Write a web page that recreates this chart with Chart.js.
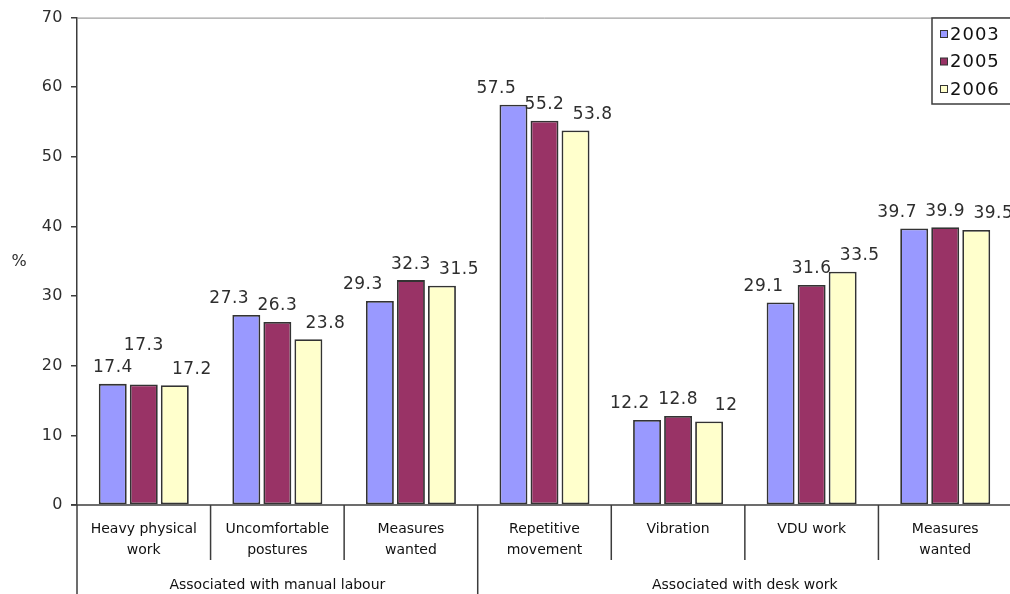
<!DOCTYPE html>
<html>
<head>
<meta charset="utf-8">
<title>Work-related health risks</title>
<script src="https://cdn.jsdelivr.net/npm/chart.js@4/dist/chart.umd.min.js"></script>
<style>
  html, body { margin: 0; padding: 0; background: #ffffff; overflow: hidden; }
  #wrap { position: absolute; left: 0; top: 0; width: 1012px; height: 594px; }
</style>
</head>
<body>
<div id="wrap"><canvas id="c" width="1012" height="594"></canvas></div>
<script>
// Categories (two-line labels) and the group each one belongs to
const categories = [
  ["Heavy physical", "work"],
  ["Uncomfortable", "postures"],
  ["Measures", "wanted"],
  ["Repetitive", "movement"],
  ["Vibration"],
  ["VDU work"],
  ["Measures", "wanted"]
];
const groupNames = ["Associated with manual labour", "Associated with desk work"];
const groupSizes = [3, 4];

// Series values (%)
const years = ["2003", "2005", "2006"];
const v2003 = [17.4, 27.3, 29.3, 57.5, 12.2, 29.1, 39.7];
const v2005 = [17.3, 26.3, 32.3, 55.2, 12.8, 31.6, 39.9];
const v2006 = [17.2, 23.8, 31.5, 53.8, 12, 33.5, 39.5];

// Value axis
const yMin = 0, yMax = 70, yStep = 10;
const yTitle = "%";

const seriesColors = ["#9999ff", "#993366", "#ffffcc"];
const lineColor = "#3c3c3c";
const FONT = "'DejaVu Sans', Verdana, sans-serif";

// Slightly widened tick text on the value axis
const tickSpacing = {
  id: "tickSpacing",
  beforeDraw(chart) { chart.ctx.letterSpacing = "0.5px"; },
  beforeDatasetsDraw(chart) { chart.ctx.letterSpacing = "0px"; }
};

// Value labels spread above each group of bars; a label that would collide
// with its left neighbour is lifted above it
const valueLabels = {
  id: "valueLabels",
  afterDatasetsDraw(chart) {
    const ctx = chart.ctx;
    const area = chart.chartArea;
    const boxH = 14;
    ctx.save();
    ctx.font = "17px " + FONT;
    ctx.letterSpacing = "0.5px";
    ctx.fillStyle = "#2e2e2e";
    ctx.textAlign = "center";
    ctx.textBaseline = "middle";
    const metas = chart.data.datasets.map((_, d) => chart.getDatasetMeta(d));
    const nCat = chart.data.labels.length;
    for (let i = 0; i < nCat; i++) {
      const mid = metas[1].data[i].x;
      const pitch = metas[1].data[i].x - metas[0].data[i].x;
      let prev = null;
      chart.data.datasets.forEach((ds, d) => {
        const el = metas[d].data[i];
        const text = String(ds.data[i]);
        const w = ctx.measureText(text).width;
        let x = mid + (d - 1) * pitch * 1.55;
        x = Math.max(x, area.left + 16 + w / 2);
        let y = el.y - 16;
        if (prev &&
            Math.abs(x - prev.x) < (w + prev.w) / 2 + 2 &&
            Math.abs(y - prev.y) < boxH + 2) {
          y = prev.y - boxH - 8;
        }
        ctx.fillText(text, x, y);
        prev = { x, y, w };
      });
    }
    ctx.restore();
  }
};

// Frame line, two-level category axis, axis title and legend box
const decorations = {
  id: "decorations",
  afterDraw(chart) {
    const ctx = chart.ctx;
    const area = chart.chartArea;
    const xs = chart.scales.x;
    const n = categories.length;
    const half = (xs.getPixelForValue(1) - xs.getPixelForValue(0)) / 2;
    ctx.save();

    // top frame line
    ctx.strokeStyle = "#8a8a8a";
    ctx.lineWidth = 1;
    ctx.beginPath();
    ctx.moveTo(area.left, area.top + 0.5);
    ctx.lineTo(area.right, area.top + 0.5);
    ctx.stroke();

    // category axis line
    ctx.strokeStyle = lineColor;
    ctx.lineWidth = 1.5;
    ctx.beginPath();
    ctx.moveTo(area.left - 6, area.bottom);
    ctx.lineTo(area.right, area.bottom);
    ctx.stroke();

    // separators: short ones between categories, long ones between groups
    const groupEnds = new Set();
    let acc = 0;
    groupSizes.forEach(s => { acc += s; groupEnds.add(acc); });
    for (let k = 0; k <= n; k++) {
      const x = k < n ? xs.getPixelForValue(k) - half : xs.getPixelForValue(n - 1) + half;
      const isGroup = k === 0 || groupEnds.has(k);
      ctx.beginPath();
      ctx.moveTo(x, area.bottom);
      ctx.lineTo(x, isGroup ? chart.height : area.bottom + 55);
      ctx.stroke();
    }

    // category labels
    ctx.fillStyle = "#111111";
    ctx.font = "14px " + FONT;
    ctx.textAlign = "center";
    ctx.textBaseline = "middle";
    categories.forEach((lines, i) => {
      const cx = xs.getPixelForValue(i);
      lines.forEach((t, j) => ctx.fillText(t, cx, area.bottom + 24 + j * 21));
    });

    // group labels
    let start = 0;
    groupSizes.forEach((s, g) => {
      const x0 = xs.getPixelForValue(start) - half;
      const x1 = xs.getPixelForValue(start + s - 1) + half;
      ctx.fillText(groupNames[g], (x0 + x1) / 2, area.bottom + 80);
      start += s;
    });

    // value axis title
    ctx.font = "16px " + FONT;
    ctx.fillStyle = "#2e2e2e";
    ctx.fillText(yTitle, 19, (area.top + area.bottom) / 2 + 1);

    // legend box
    const lx = 932, ly = 18, lw = 100, lh = 86;
    ctx.fillStyle = "#ffffff";
    ctx.fillRect(lx, ly, lw, lh);
    ctx.strokeStyle = lineColor;
    ctx.lineWidth = 1.5;
    ctx.strokeRect(lx, ly, lw, lh);
    ctx.font = "18px " + FONT;
    ctx.letterSpacing = "1px";
    ctx.textAlign = "left";
    chart.data.datasets.forEach((ds, d) => {
      const cy = ly + 16 + d * 27.5;
      ctx.fillStyle = ds.backgroundColor;
      ctx.fillRect(940.5, cy - 3.5, 7, 7);
      ctx.strokeStyle = "#333333";
      ctx.lineWidth = 1;
      ctx.strokeRect(940.5, cy - 3.5, 7, 7);
      ctx.fillStyle = "#111111";
      ctx.fillText(ds.label, 950, cy + 1);
    });
    ctx.restore();
  }
};

const seriesValues = [v2003, v2005, v2006];

new Chart(document.getElementById("c"), {
  type: "bar",
  data: {
    labels: categories,
    datasets: years.map((y, k) => ({
      label: y,
      data: seriesValues[k],
      backgroundColor: seriesColors[k],
      borderColor: "#333333",
      borderWidth: 1.8,
      borderSkipped: false,
      categoryPercentage: 0.697,
      barPercentage: 0.9
    }))
  },
  options: {
    responsive: false,
    animation: false,
    devicePixelRatio: 1,
    layout: { padding: { top: 16, left: 0, right: 0, bottom: 0 } },
    plugins: {
      legend: { display: false },
      tooltip: { enabled: false },
      title: { display: false }
    },
    scales: {
      x: {
        grid: { display: false },
        border: { display: false },
        ticks: { display: false },
        afterFit(scale) { scale.height = 89; }
      },
      y: {
        min: yMin,
        max: yMax,
        ticks: {
          stepSize: yStep,
          font: { family: FONT, size: 16 },
          color: "#2e2e2e",
          padding: 8
        },
        grid: {
          drawOnChartArea: false,
          drawTicks: true,
          tickLength: 6,
          color: lineColor,
          lineWidth: 1.5
        },
        border: { display: true, color: lineColor, width: 1.5 },
        afterFit(scale) { scale.width = 77; }
      }
    }
  },
  plugins: [tickSpacing, valueLabels, decorations]
});
</script>
</body>
</html>
